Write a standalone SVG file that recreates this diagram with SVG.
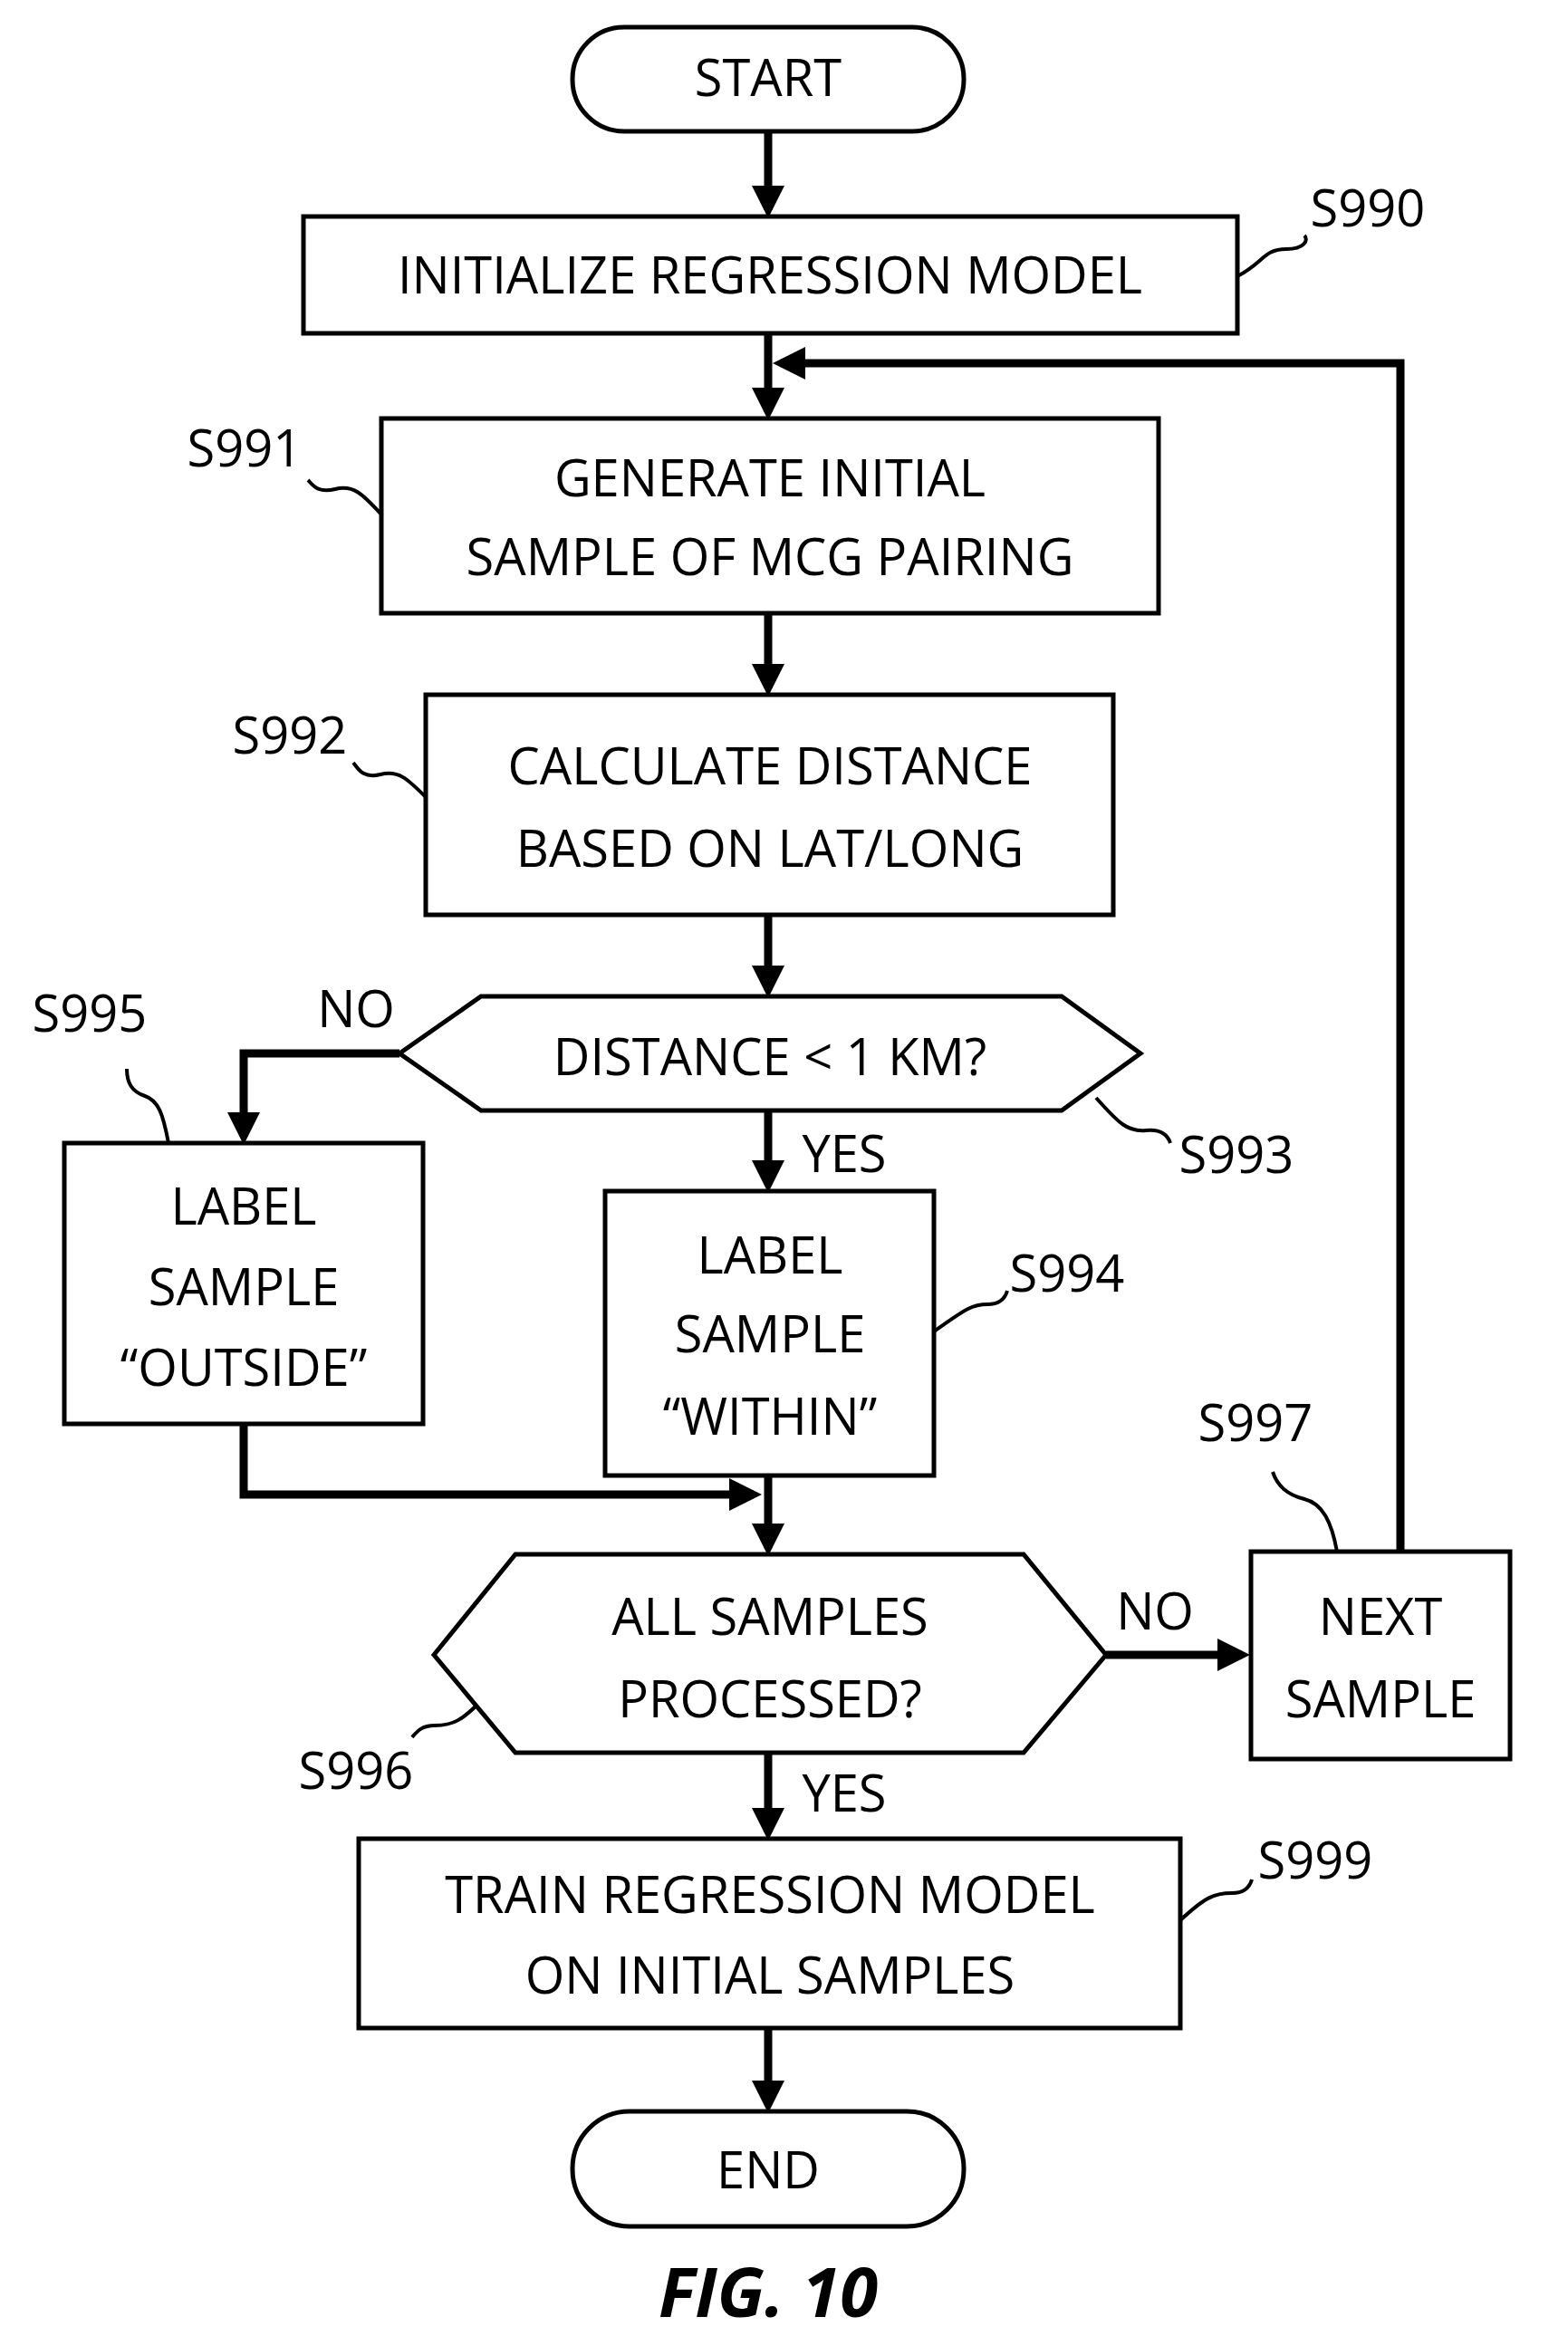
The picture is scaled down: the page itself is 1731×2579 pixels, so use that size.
<svg xmlns="http://www.w3.org/2000/svg" width="1731" height="2579" viewBox="0 0 1731 2579">
<style>
.b{fill:#fff;stroke:#000;stroke-width:5}
.t{font-family:"Open Sans","DejaVu Sans",sans-serif;font-size:56px;text-anchor:middle;fill:#000}
.c{fill:none;stroke:#000;stroke-width:9}
.s{fill:none;stroke:#000;stroke-width:4}
</style>
<defs><marker id="a" markerWidth="4" markerHeight="4" refX="3" refY="2" orient="auto" markerUnits="strokeWidth"><path d="M0,0 L4,2 L0,4 z" fill="#000"/></marker></defs>
<rect width="1731" height="2579" fill="#fff"/>
<g id="connectors">
<line class="c" x1="848" y1="145" x2="848" y2="232" marker-end="url(#a)"/>
<line class="c" x1="848" y1="368" x2="848" y2="455" marker-end="url(#a)"/>
<polyline class="c" points="1546,1713 1546,401 862,401" marker-end="url(#a)"/>
<line class="c" x1="848" y1="677" x2="848" y2="760" marker-end="url(#a)"/>
<line class="c" x1="848" y1="1010" x2="848" y2="1093" marker-end="url(#a)"/>
<polyline class="c" points="441,1163 269,1163 269,1255" marker-end="url(#a)"/>
<line class="c" x1="848" y1="1226" x2="848" y2="1308" marker-end="url(#a)"/>
<line class="c" x1="848" y1="1629" x2="848" y2="1709" marker-end="url(#a)"/>
<polyline class="c" points="269,1572 269,1650 832,1650" marker-end="url(#a)"/>
<line class="c" x1="1221" y1="1827" x2="1371" y2="1827" marker-end="url(#a)"/>
<line class="c" x1="848" y1="1935" x2="848" y2="2023" marker-end="url(#a)"/>
<line class="c" x1="848" y1="2239" x2="848" y2="2324" marker-end="url(#a)"/>
<path class="s" d="M1366,305 C1395,290 1395,275 1420,275 C1440,275 1445,265 1440,260"/>
<path class="s" d="M421,568 C400,545 390,535 370,540 C350,545 345,535 340,530"/>
<path class="s" d="M470,880 C450,860 440,850 420,855 C400,860 395,848 390,842"/>
<path class="s" d="M1210,1212 C1235,1240 1245,1250 1265,1248 C1285,1246 1290,1256 1292,1262"/>
<path class="s" d="M186,1262 C180,1230 175,1215 160,1210 C145,1205 140,1195 140,1180"/>
<path class="s" d="M1031,1470 C1060,1450 1070,1440 1090,1440 C1105,1440 1110,1432 1112,1425"/>
<path class="s" d="M536,1873 C510,1900 500,1905 480,1905 C465,1905 460,1912 455,1918"/>
<path class="s" d="M1476,1713 C1470,1680 1460,1660 1440,1655 C1420,1650 1410,1640 1405,1625"/>
<path class="s" d="M1303,2120 C1330,2095 1340,2090 1360,2090 C1375,2090 1380,2082 1382,2075"/>
</g>
<g id="start"><rect class="b" x="632" y="30" width="432" height="115" rx="57"/><text class="t" x="848" y="106">START</text></g>
<g id="s990"><rect class="b" x="335" y="239" width="1031" height="129"/><text class="t" x="850" y="324">INITIALIZE REGRESSION MODEL</text><text class="t" x="1510" y="250">S990</text></g>
<g id="s991"><rect class="b" x="421" y="462" width="858" height="215"/><text class="t" x="850" y="548">GENERATE INITIAL</text><text class="t" x="850" y="635">SAMPLE OF MCG PAIRING</text><text class="t" x="270" y="515">S991</text></g>
<g id="s992"><rect class="b" x="470" y="767" width="759" height="243"/><text class="t" x="850" y="866">CALCULATE DISTANCE</text><text class="t" x="850" y="957">BASED ON LAT/LONG</text><text class="t" x="320" y="832">S992</text></g>
<g id="s993"><polygon class="b" points="441,1163 531,1100 1172,1100 1259,1163 1172,1226 531,1226"/><text class="t" x="850" y="1187">DISTANCE &lt; 1 KM?</text><text class="t" x="1365" y="1295">S993</text><text class="t" x="393" y="1134">NO</text><text class="t" x="932" y="1294">YES</text></g>
<g id="s995"><rect class="b" x="71" y="1262" width="396" height="310"/><text class="t" x="269" y="1352">LABEL</text><text class="t" x="269" y="1441">SAMPLE</text><text class="t" x="269" y="1530">“OUTSIDE”</text><text class="t" x="99" y="1139">S995</text></g>
<g id="s994"><rect class="b" x="668" y="1315" width="363" height="314"/><text class="t" x="850" y="1406">LABEL</text><text class="t" x="850" y="1493">SAMPLE</text><text class="t" x="850" y="1584">“WITHIN”</text><text class="t" x="1178" y="1426">S994</text></g>
<g id="s996"><polygon class="b" points="479,1827 569,1716 1130,1716 1221,1827 1130,1935 569,1935"/><text class="t" x="850" y="1805">ALL SAMPLES</text><text class="t" x="850" y="1896">PROCESSED?</text><text class="t" x="393" y="1975">S996</text><text class="t" x="1275" y="1799">NO</text><text class="t" x="932" y="2000">YES</text></g>
<g id="s997"><rect class="b" x="1381" y="1713" width="286" height="229"/><text class="t" x="1524" y="1805">NEXT</text><text class="t" x="1524" y="1896">SAMPLE</text><text class="t" x="1386" y="1591">S997</text></g>
<g id="s999"><rect class="b" x="396" y="2030" width="907" height="209"/><text class="t" x="850" y="2112">TRAIN REGRESSION MODEL</text><text class="t" x="850" y="2201">ON INITIAL SAMPLES</text><text class="t" x="1452" y="2074">S999</text></g>
<g id="end"><rect class="b" x="632" y="2331" width="432" height="127" rx="63"/><text class="t" x="848" y="2416">END</text></g>
<text x="848" y="2558" style="font-family:'Open Sans',sans-serif;font-size:76px;font-weight:bold;font-style:italic;text-anchor:middle">FIG. 10</text>
</svg>
